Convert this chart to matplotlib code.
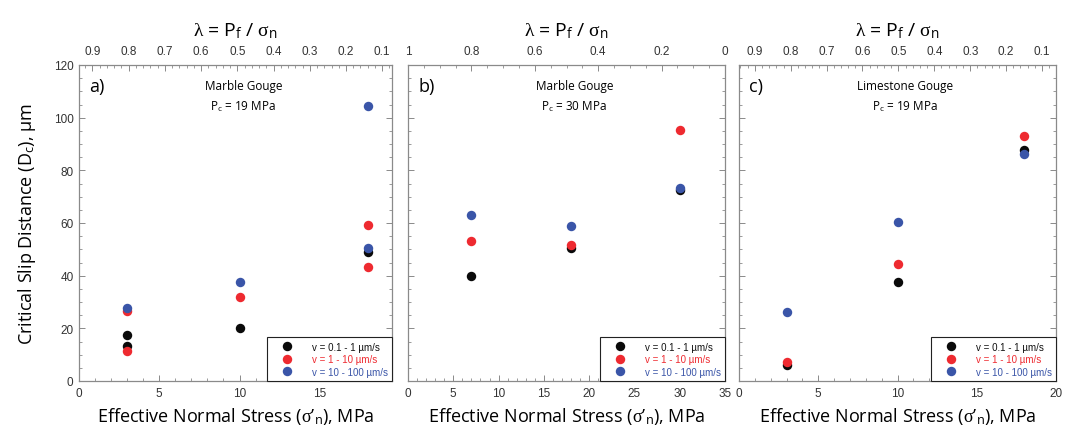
import matplotlib
matplotlib.use('Agg')
from matplotlib import pyplot as plt
from matplotlib.ticker import MultipleLocator, FormatStrFormatter

# tick labels and legend in an Arial-like face, titles in a Myriad-like face
plt.rcParams['font.family'] = ['Liberation Sans', 'DejaVu Sans']
plt.rcParams['mathtext.fontset'] = 'custom'
plt.rcParams['mathtext.rm'] = 'Liberation Serif'
plt.rcParams['mathtext.it'] = 'Liberation Serif:italic'
plt.rcParams['mathtext.sf'] = 'Open Sans'
myriad = ['Open Sans', 'DejaVu Sans']

# series colours
c_black = '#0a0a0a'
c_red = '#ee2a30'
c_blue = '#3a55a8'

labels = ['v = 0.1 - 1 µm/s', 'v = 1 - 10 µm/s', 'v = 10 - 100 µm/s']

# panel a) marble gouge, Pc = 19 MPa
a_black_x = [3, 3, 10, 18]
a_black_y = [17.6, 13.2, 20.3, 48.8]
a_red_x = [3, 3, 10, 18, 18]
a_red_y = [26.7, 11.5, 31.9, 59.4, 43.4]
a_blue_x = [3, 10, 18, 18]
a_blue_y = [27.8, 37.6, 104.6, 50.5]

# panel b) marble gouge, Pc = 30 MPa
b_black_x = [7, 18, 30]
b_black_y = [39.8, 50.6, 72.7]
b_red_x = [7, 18, 30]
b_red_y = [53.1, 51.8, 95.4]
b_blue_x = [7, 18, 30]
b_blue_y = [62.9, 58.8, 73.4]

# panel c) limestone gouge, Pc = 19 MPa
c_black_x = [3, 10, 18]
c_black_y = [6.0, 37.6, 87.8]
c_red_x = [3, 10, 18]
c_red_y = [7.2, 44.3, 93.2]
c_blue_x = [3, 10, 18]
c_blue_y = [26.1, 60.3, 86.3]

panels = [
    ('a)', 'Marble Gouge', '19', (0, 19.5), (0.937, 0.073), 0.1, 0.02, 5, 1,
     [(a_black_x, a_black_y), (a_red_x, a_red_y), (a_blue_x, a_blue_y)]),
    ('b)', 'Marble Gouge', '30', (0, 35), (1.0, 0.0), 0.2, 0.05, 5, 1,
     [(b_black_x, b_black_y), (b_red_x, b_red_y), (b_blue_x, b_blue_y)]),
    ('c)', 'Limestone Gouge', '19', (0, 20), (0.944, 0.061), 0.1, 0.02, 5, 1,
     [(c_black_x, c_black_y), (c_red_x, c_red_y), (c_blue_x, c_blue_y)]),
]

lefts = [79 / 1073, 408 / 1073, 739 / 1073]
widths = [313 / 1073, 317 / 1073, 317 / 1073]

fig = plt.figure(figsize=(10.73, 4.35), dpi=100)

spine_col = '#8a8a8a'
tick_col = '#333333'

for i, (tag, gouge, pc, xlim, lamlim, lmaj, lmin, xmaj, xmin, series) in enumerate(panels):
    ax = fig.add_axes([lefts[i], 53 / 435, widths[i], 316 / 435])
    for (x, y), col, lab in zip(series, [c_black, c_red, c_blue], labels):
        ax.plot(x, y, 'o', color=col, markersize=6.8, markeredgewidth=0, label=lab)

    ax.set_xlim(*xlim)
    ax.set_ylim(0, 120)
    ax.xaxis.set_major_locator(MultipleLocator(xmaj))
    ax.xaxis.set_minor_locator(MultipleLocator(xmin))
    ax.yaxis.set_major_locator(MultipleLocator(20))
    ax.yaxis.set_minor_locator(MultipleLocator(5))
    ax.tick_params(which='both', direction='in', top=False, right=True,
                   color=spine_col, labelcolor=tick_col, labelsize=8.5, pad=4)
    ax.tick_params(which='major', length=4, width=0.7)
    ax.tick_params(which='minor', length=2.5, width=0.6)
    if i > 0:
        ax.tick_params(labelleft=False)
    for s in ax.spines.values():
        s.set_color(spine_col)
        s.set_linewidth(0.9)

    ax.set_xlabel(r"Effective Normal Stress ($\mathrm{\sigma}$’$_{\mathsf{n}}$), MPa",
                  fontsize=13, labelpad=5, family=myriad)
    if i == 0:
        ax.set_ylabel(r'Critical Slip Distance (D$_{\mathsf{c}}$), µm', fontsize=13,
                      labelpad=11, family=myriad)

    ax.text(0.032, 0.935, tag, transform=ax.transAxes, fontsize=13, ha='left', va='center',
            family=myriad)
    ax.text(0.525, 0.936, gouge, transform=ax.transAxes, fontsize=8.5, ha='center',
            va='center', family=myriad)
    ax.text(0.525, 0.872, r'P$_{\mathsf{c}}$ = ' + pc + ' MPa', transform=ax.transAxes,
            fontsize=8.5, ha='center', va='center', family=myriad)

    leg = ax.legend(loc='lower right', borderaxespad=0, fancybox=False, framealpha=1,
                    edgecolor='#222222', fontsize=7,
                    handletextpad=0.9, labelspacing=0.25, borderpad=0.45,
                    handlelength=3.2, markerscale=1.0)
    leg.get_frame().set_linewidth(0.8)
    for t, col in zip(leg.get_texts(), ['#111111', c_red, c_blue]):
        t.set_color(col)

    top = ax.twiny()
    top.set_xlim(*lamlim)
    top.xaxis.set_major_locator(MultipleLocator(lmaj))
    top.xaxis.set_minor_locator(MultipleLocator(lmin))
    top.xaxis.set_major_formatter(FormatStrFormatter('%g'))
    top.tick_params(which='both', direction='in', color=spine_col, labelcolor=tick_col,
                    labelsize=8.5, pad=6)
    top.tick_params(which='major', length=4, width=0.7)
    top.tick_params(which='minor', length=2.5, width=0.6)
    for s in top.spines.values():
        s.set_visible(False)
    top.set_xlabel(r'$\mathrm{\lambda}$ = P$_{\mathsf{f}}$ / $\mathrm{\sigma}_{\mathsf{n}}$',
                   fontsize=14, labelpad=7, family=myriad)

plt.savefig('out.png', dpi=100)
